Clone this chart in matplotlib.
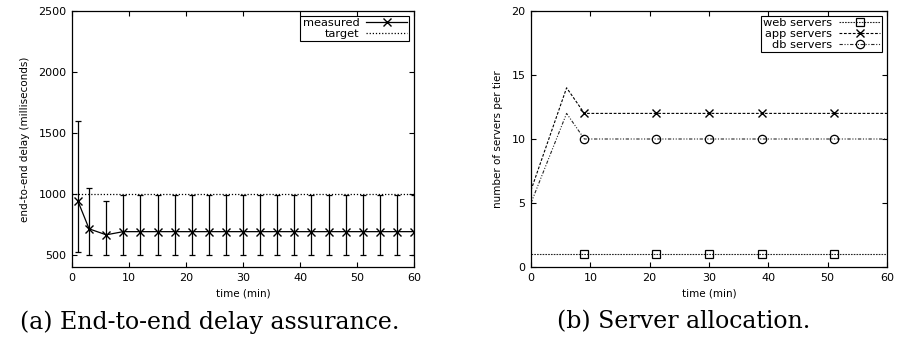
import matplotlib
matplotlib.use('Agg')
import matplotlib.pyplot as plt

# (a) end-to-end delay
delay_t = [1, 3, 6, 9, 12, 15, 18, 21, 24, 27, 30, 33, 36, 39, 42, 45, 48, 51, 54, 57, 60]
delay_ms = [945, 713, 664] + [690] * 18
delay_hi = [1595, 1050, 938] + [990] * 18
delay_lo = [522, 500, 500] + [500] * 18
target_t = [0, 60]
target_ms = [1000, 1000]

# (b) servers per tier
srv_t = [0, 6, 9, 21, 30, 39, 51, 60]
web_srv = [1, 1, 1, 1, 1, 1, 1, 1]
app_srv = [6, 14, 12, 12, 12, 12, 12, 12]
db_srv = [5, 12, 10, 10, 10, 10, 10, 10]
mark_idx = [2, 3, 4, 5, 6]

plt.rcParams['font.family'] = 'DejaVu Sans'
plt.rcParams['font.size'] = 7.5

fig = plt.figure(figsize=(8.99, 3.43), dpi=100)
axA = fig.add_axes([72/899, 1-267/343, 342/899, 256/343])
axB = fig.add_axes([531/899, 1-267/343, 356/899, 256/343])

err_lo = [m - l for m, l in zip(delay_ms, delay_lo)]
err_hi = [h - m for m, h in zip(delay_ms, delay_hi)]
axA.errorbar(delay_t, delay_ms, yerr=[err_lo, err_hi], fmt='none', ecolor='black',
             elinewidth=0.9, capsize=2.2, capthick=0.9)
axA.plot(delay_t, delay_ms, color='black', lw=0.9, marker='x', ms=6, mew=1.0,
         label='measured')
axA.plot(target_t, target_ms, color='black', lw=0.9, ls=(0, (1, 1.5)), label='target')
axA.set_xlim(0, 60)
axA.set_ylim(400, 2500)
axA.set_xticks(range(0, 61, 10))
axA.set_yticks(range(500, 2501, 500))
axA.set_xlabel('time (min)', labelpad=4)
axA.set_ylabel('end-to-end delay (milliseconds)', labelpad=6)

axB.plot(srv_t, web_srv, color='0.15', lw=0.8, ls=(0, (1.5, 1)), marker='s', ms=6,
         mfc='none', mec='black', mew=0.9, markevery=mark_idx, label='web servers')
axB.plot(srv_t, app_srv, color='black', lw=0.8, ls=(0, (2.5, 1.5)), marker='x', ms=6,
         mec='black', mew=1.0, markevery=mark_idx, label='app servers')
axB.plot(srv_t, db_srv, color='0.15', lw=0.8, ls=(0, (3, 1.5, 1, 1.5, 1, 1.5)), marker='o',
         ms=6, mfc='none', mec='black', mew=0.9, markevery=mark_idx, label='db servers')
axB.set_xlim(0, 60)
axB.set_ylim(0, 20)
axB.set_xticks(range(0, 61, 10))
axB.set_yticks(range(0, 21, 5))
axB.set_xlabel('time (min)', labelpad=4)
axB.set_ylabel('number of servers per tier', labelpad=6)

for ax in (axA, axB):
    ax.tick_params(direction='in', top=True, right=True, length=3.5, width=0.8, pad=4,
                   labelsize=8)
    for s in ax.spines.values():
        s.set_linewidth(0.9)
    leg = ax.legend(loc='upper right', markerfirst=False, fancybox=False,
                    edgecolor='black', framealpha=1, handlelength=3.6,
                    borderpad=0.2, labelspacing=0.1, handletextpad=0.6,
                    borderaxespad=0.4, fontsize=8.2)
    leg.get_frame().set_linewidth(0.8)

fig.text(210/899, 1-322/343, '(a) End-to-end delay assurance.', family='DejaVu Serif',
         fontsize=17, ha='center', va='center')
fig.text(684/899, 1-322/343, '(b) Server allocation.', family='DejaVu Serif',
         fontsize=17, ha='center', va='center')

fig.savefig('out.png', dpi=100)
